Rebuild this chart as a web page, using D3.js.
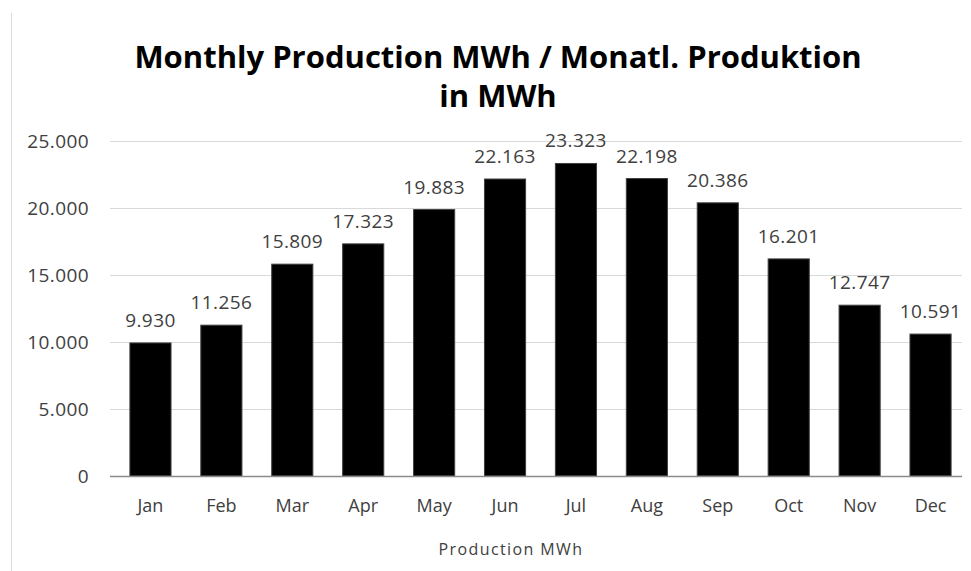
<!DOCTYPE html>
<html>
<head>
<meta charset="utf-8">
<script src="https://cdn.jsdelivr.net/npm/d3@7"></script>
<style>
  body { margin: 0; background: #fff; }
  svg { display: block; font-family: "Open Sans", sans-serif; }
</style>
</head>
<body>
<div id="chart"></div>
<script>
// Monthly production, values in MWh
const months = ["Jan", "Feb", "Mar", "Apr", "May", "Jun", "Jul", "Aug", "Sep", "Oct", "Nov", "Dec"];
const production = [9930, 11256, 15809, 17323, 19883, 22163, 23323, 22198, 20386, 16201, 12747, 10591];
const yTicks = [0, 5000, 10000, 15000, 20000, 25000];

const width = 971;
const height = 571;

// German style thousands separator
const fmt = (v) => d3.format(",")(v).replace(/,/g, ".");

const svg = d3.select("#chart")
  .append("svg")
  .attr("width", width)
  .attr("height", height);

// frame edge on the left
svg.append("line")
  .attr("x1", 11.5).attr("x2", 11.5)
  .attr("y1", 13).attr("y2", height)
  .attr("stroke", "#d9d9d9");

const x = d3.scaleBand()
  .domain(months)
  .range([115, 966])
  .paddingInner(0.42)
  .paddingOuter(0.21);

const y = d3.scaleLinear()
  .domain([0, 25000])
  .range([476, 141]);

// gridlines
svg.append("g")
  .selectAll("line")
  .data(yTicks.slice(1))
  .enter()
  .append("line")
  .attr("x1", 110)
  .attr("x2", 962)
  .attr("y1", (d) => y(d) + 0.5)
  .attr("y2", (d) => y(d) + 0.5)
  .attr("stroke", "#d9d9d9")
  .attr("stroke-width", 1);

// y tick labels
svg.append("g")
  .selectAll("text")
  .data(yTicks)
  .enter()
  .append("text")
  .attr("x", 89)
  .attr("y", (d) => y(d))
  .attr("dy", "0.35em")
  .attr("text-anchor", "end")
  .attr("font-size", 19)
  .attr("letter-spacing", 0.4)
  .attr("fill", "#404040")
  .text((d) => fmt(d));

// bars
svg.append("g")
  .selectAll("rect")
  .data(production)
  .enter()
  .append("rect")
  .attr("x", (d, i) => x(months[i]))
  .attr("y", (d) => y(d))
  .attr("width", x.bandwidth())
  .attr("height", (d) => y(0) - y(d))
  .attr("fill", "#000")
  .attr("stroke", "#404040")
  .attr("stroke-width", 1);

// baseline
svg.append("line")
  .attr("x1", 110)
  .attr("x2", 962)
  .attr("y1", y(0) + 0.5)
  .attr("y2", y(0) + 0.5)
  .attr("stroke", "#8c8c8c")
  .attr("stroke-width", 1.5);

// data labels
svg.append("g")
  .selectAll("text")
  .data(production)
  .enter()
  .append("text")
  .attr("x", (d, i) => x(months[i]) + x.bandwidth() / 2)
  .attr("y", (d) => y(d) - 16)
  .attr("text-anchor", "middle")
  .attr("font-size", 19)
  .attr("letter-spacing", 0.4)
  .attr("fill", "#404040")
  .text((d) => fmt(d));

// month labels
svg.append("g")
  .selectAll("text")
  .data(months)
  .enter()
  .append("text")
  .attr("x", (d) => x(d) + x.bandwidth() / 2)
  .attr("y", 512)
  .attr("text-anchor", "middle")
  .attr("font-size", 18)
  .attr("fill", "#404040")
  .text((d) => d);

// axis title
svg.append("text")
  .attr("x", 511)
  .attr("y", 555)
  .attr("text-anchor", "middle")
  .attr("font-size", 16)
  .attr("letter-spacing", 1.4)
  .attr("fill", "#404040")
  .text("Production MWh");

// chart title
const title = svg.append("text")
  .attr("text-anchor", "middle")
  .attr("font-size", 31)
  .attr("font-weight", "bold")
  .attr("fill", "#000");
title.append("tspan").attr("x", 498).attr("y", 68).text("Monthly Production MWh / Monatl. Produktion");
title.append("tspan").attr("x", 498).attr("y", 107).text("in MWh");
</script>
</body>
</html>
